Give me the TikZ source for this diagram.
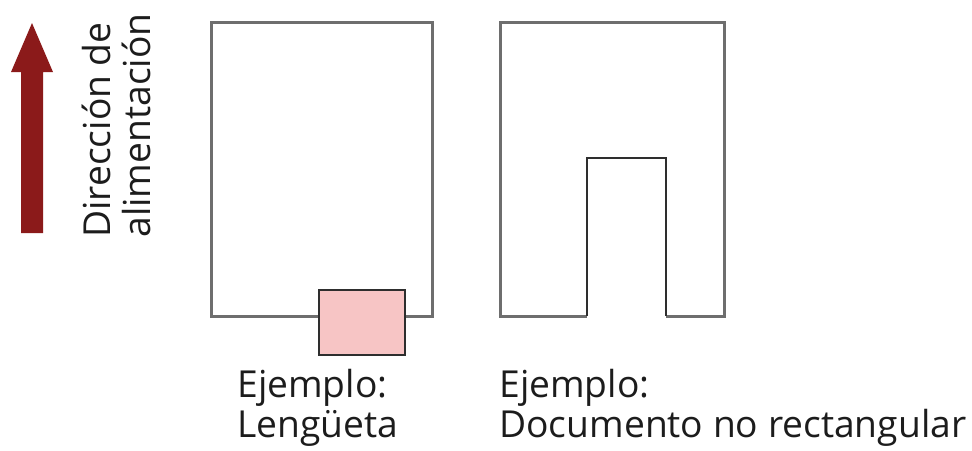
\documentclass[tikz,border=0pt]{standalone}
\usepackage{fontspec}
\setmainfont{Open Sans}
\usepackage{tikz}
\usetikzlibrary{positioning}
\usepackage{xcolor}
\definecolor{feedred}{HTML}{8B1A1A}
\definecolor{pagegray}{HTML}{6E6E6E}
\definecolor{edgedark}{HTML}{2E2E2E}
\definecolor{tabpink}{HTML}{F7C5C5}
\definecolor{txtdark}{HTML}{1C1C1C}
\tikzset{
  page/.style    = {draw=pagegray, line width=1.5pt, rectangle, inner sep=0pt},
  tabbox/.style  = {draw=edgedark, fill=tabpink, line width=1.3pt, rectangle, inner sep=0pt},
  caption/.style = {txtdark, inner sep=0pt, align=left, font=\fontsize{18.6}{20}\selectfont},
}

\begin{document}
\begin{tikzpicture}[x=0.5pt,y=-0.5pt]
\useasboundingbox (0,0) rectangle (972,450);
% feed direction arrow
\fill[feedred] (21,233) -- (21,72) -- (11,72) -- (32,23) -- (53,72) -- (43,72) -- (43,233) -- cycle;
\node[caption, rotate=90, anchor=north west] (feedlbl) at (82,238)
  {Dirección de\\alimentación};
% example with tab
\node[page, minimum width=110.5pt, minimum height=147pt] (tabpage) at (321.5,169) {};
\node[tabbox, minimum width=43pt, minimum height=32.5pt] (tab) at (362,322.5) {};
\node[caption, anchor=north west] (tablbl) at (237,369) {Ejemplo:\\Lengüeta};
% example with non rectangular document
\coordinate (cutL) at (587,316);
\coordinate (cutR) at (666,316);
\draw[pagegray, line width=1.5pt, line join=miter]
  (cutR) -- (724,316) -- (724,22) -- (500,22) -- (500,316) -- (cutL);
\draw[edgedark, line width=1.3pt] (cutL) -- (587,158) -- (666,158) -- (cutR);
\node[caption, anchor=north west] (doclbl) at (499,369) {Ejemplo:\\Documento no rectangular};
\end{tikzpicture}
\end{document}
